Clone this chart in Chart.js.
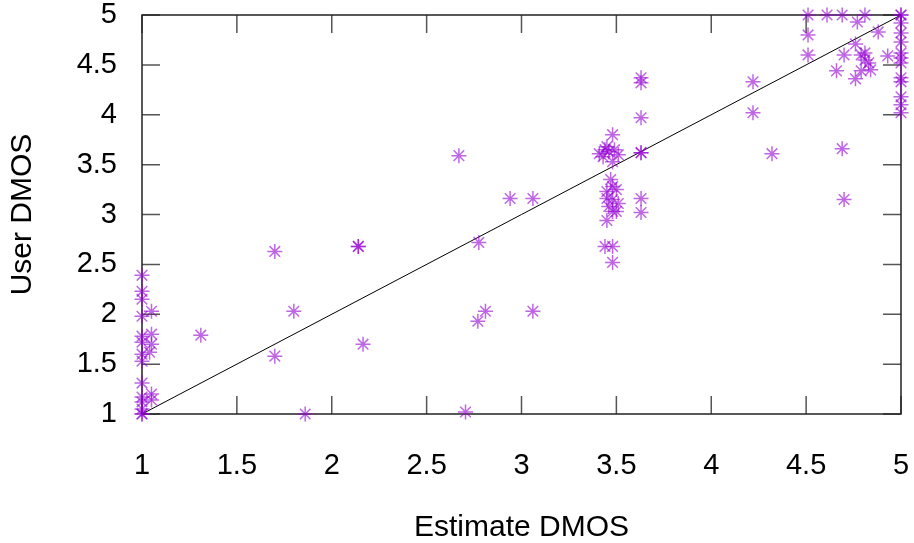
<!DOCTYPE html>
<html>
<head>
<meta charset="utf-8">
<script src="https://cdn.jsdelivr.net/npm/chart.js@4"></script>
<style>
  html, body { margin: 0; padding: 0; background: #fff; }
  #wrap { width: 914px; height: 543px; }
</style>
</head>
<body>
<div id="wrap"><canvas id="dmosChart" width="914" height="543"></canvas></div>
<script>
// values
const estimateDmos = [
  1, 1, 1, 1, 1, 1, 1, 1, 1, 1, 1, 1, 1, 1,
  1.05, 1.05, 1.05, 1.04, 1.05, 1.05,
  1.31, 1.70, 1.80, 1.70, 1.86, 2.14, 2.14, 2.165, 2.67, 2.705, 2.94, 3.06, 2.775, 2.81, 2.77, 3.06,
  3.63, 3.48, 3.41, 3.44, 3.46, 3.49, 3.51, 3.43, 3.48, 3.45, 3.63, 3.63,
  3.47, 3.48, 3.45, 3.50, 3.45, 3.48, 3.51, 3.46, 3.48, 3.50, 3.45,
  3.63, 3.63, 3.44, 3.48, 3.48, 3.63, 3.63,
  4.51, 4.61, 4.69, 4.81, 4.77, 4.51, 4.51, 4.88, 4.76, 4.70, 4.79, 4.81,
  4.81, 4.83, 4.84, 4.79, 4.66, 4.76, 4.93, 4.22, 4.22, 4.32, 4.69, 4.70,
  5, 5, 5, 5, 5, 5, 5, 5, 5, 5, 5, 5, 5
];
const userDmos = [
  2.39, 2.23, 2.15, 1.98, 1.78, 1.72, 1.60, 1.53, 1.31, 1.17, 1.12, 1.0, 1.0, 1.05,
  2.03, 1.80, 1.70, 1.62, 1.20, 1.14,
  1.79, 2.63, 2.03, 1.58, 1.0, 2.68, 2.68, 1.70, 3.59, 1.02, 3.16, 3.16, 2.72, 2.03, 1.93, 2.03,
  3.97, 3.80, 3.61, 3.65, 3.63, 3.65, 3.60, 3.58, 3.53, 3.68, 3.62, 3.62,
  3.35, 3.28, 3.23, 3.25, 3.16, 3.15, 3.11, 3.08, 3.03, 3.03, 2.94,
  3.16, 3.02, 2.68, 2.68, 2.52, 4.37, 4.32,
  5.0, 5.0, 5.0, 5.0, 4.93, 4.80, 4.60, 4.83, 4.71, 4.60, 4.60, 4.62,
  4.55, 4.52, 4.45, 4.44, 4.44, 4.36, 4.59, 4.33, 4.02, 3.61, 3.66, 3.15,
  5.0, 5.0, 4.92, 4.82, 4.73, 4.62, 4.57, 4.52, 4.37, 4.33, 4.18, 4.10, 4.02
];
const tickValues = [1, 1.5, 2, 2.5, 3, 3.5, 4, 4.5, 5];
const tickLabels = ['1', '1.5', '2', '2.5', '3', '3.5', '4', '4.5', '5'];
const diagonalEnds = [1, 5];

Chart.defaults.font.family = '"Liberation Sans", Arial, sans-serif';
Chart.defaults.color = '#000';

// gnuplot style box with inward ticks on all four sides
const frame = {
  id: 'frame',
  beforeDatasetsDraw(chart) {
    const { ctx, chartArea: a, scales: { x, y } } = chart;
    ctx.save();
    ctx.strokeStyle = '#555';
    ctx.lineWidth = 1.5;
    ctx.beginPath();
    tickValues.forEach(v => {
      const px = x.getPixelForValue(v), py = y.getPixelForValue(v);
      ctx.moveTo(px, a.bottom); ctx.lineTo(px, a.bottom - 18);
      ctx.moveTo(px, a.top); ctx.lineTo(px, a.top + 18);
      ctx.moveTo(a.left, py); ctx.lineTo(a.left + 18, py);
      ctx.moveTo(a.right, py); ctx.lineTo(a.right - 18, py);
    });
    ctx.stroke();
    ctx.strokeStyle = '#222';
    ctx.strokeRect(a.left, a.top, a.width, a.height);
    ctx.restore();
  }
};

const setTicks = s => { s.ticks = tickValues.map(v => ({ value: v })); };
const tickText = (v, i) => tickLabels[i];

new Chart(document.getElementById('dmosChart'), {
  type: 'scatter',
  data: {
    datasets: [{
      data: estimateDmos.map((x, i) => ({ x, y: userDmos[i] })),
      pointStyle: 'star',
      pointRadius: 7.5,
      borderWidth: 1.5,
      borderColor: 'rgba(148, 0, 211, 0.6)',
      backgroundColor: 'rgba(148, 0, 211, 0.6)',
      clip: false
    }, {
      type: 'line',
      data: diagonalEnds.map(v => ({ x: v, y: v })),
      borderColor: '#000',
      borderWidth: 1,
      pointRadius: 0,
      clip: false
    }]
  },
  options: {
    responsive: false,
    animation: false,
    events: [],
    layout: { padding: { top: 15, right: 13, left: 0, bottom: 0 } },
    plugins: { legend: { display: false }, tooltip: { enabled: false } },
    scales: {
      x: {
        type: 'linear', min: 1, max: 5,
        afterBuildTicks: setTicks,
        afterFit: s => { s.height = 129; s.paddingLeft = 0; s.paddingRight = 0; },
        grid: { display: false },
        border: { display: false },
        ticks: { font: { size: 29, lineHeight: 1 }, padding: 29, maxRotation: 0, autoSkip: false, callback: tickText },
        title: { display: true, text: 'Estimate DMOS', font: { size: 30, lineHeight: 1 }, padding: 0 }
      },
      y: {
        type: 'linear', min: 1, max: 5,
        afterBuildTicks: setTicks,
        afterFit: s => { s.width = 142; s.paddingTop = 0; s.paddingBottom = 0; },
        grid: { display: false },
        border: { display: false },
        ticks: { font: { size: 29, lineHeight: 1 }, padding: 17, autoSkip: false, callback: tickText },
        title: { display: true, text: 'User DMOS', font: { size: 30, lineHeight: 1 }, padding: { top: 8, bottom: 0 } }
      }
    }
  },
  plugins: [frame]
});
</script>
</body>
</html>
